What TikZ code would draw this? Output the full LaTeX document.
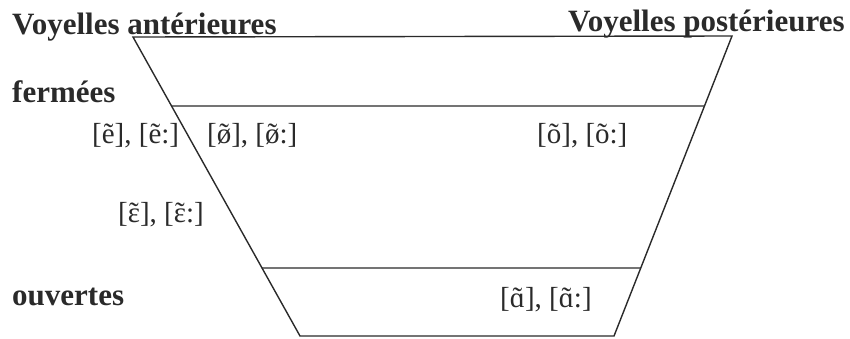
\documentclass[tikz,border=0pt]{standalone}
\usepackage{fontspec}
\setmainfont{Liberation Serif}
\usetikzlibrary{calc}
\definecolor{ink}{HTML}{2A2A2A}
\newcommand\nasal[1]{\ooalign{#1\cr\hidewidth\char"02DC\hidewidth\cr}}
\tikzset{
  lbl/.style={anchor=base west, inner sep=0pt, text=ink, font=\fontsize{31}{37}\selectfont\bfseries},
  ipa/.style={anchor=base west, inner sep=0pt, text=ink, font=\fontsize{29}{35}\selectfont},
  edge/.style={draw=ink, line width=1.4pt}
}
\begin{document}
\begin{tikzpicture}[x=1pt,y=-1pt]
\useasboundingbox (0,0) rectangle (850,338);
\coordinate (tl) at (133,37);
\coordinate (tr) at (732,36);
\coordinate (bl) at (300,336);
\coordinate (br) at (614,336);
\coordinate (fl) at ($(tl)!0.2308!(bl)$);
\coordinate (fr) at ($(tr)!0.2333!(br)$);
\coordinate (ol) at ($(tl)!0.7726!(bl)$);
\coordinate (or) at ($(tr)!0.7733!(br)$);
\draw[edge] (tl) -- (tr) -- (br) -- (bl) -- cycle;
\draw[edge] (fl) -- (fr);
\draw[edge] (ol) -- (or);
\node[lbl] (ant) at (12,34) {Voyelles antérieures};
\node[lbl] (post) at (568,31) {Voyelles postérieures};
\node[lbl] (ferm) at (12,102) {fermées};
\node[lbl] (ouv) at (12,305) {ouvertes};
\node[ipa] (e) at (92,143) {[ẽ], [ẽ:]};
\node[ipa] (oe) at (207,143) {[\nasal{ø}], [\nasal{ø}:]};
\node[ipa] (o) at (537,143) {[õ], [õ:]};
\node[ipa] (eps) at (118,222) {[\nasal{ɛ}], [\nasal{ɛ}:]};
\node[ipa] (a) at (500,307) {[\nasal{ɑ}], [\nasal{ɑ}:]};
\end{tikzpicture}
\end{document}
